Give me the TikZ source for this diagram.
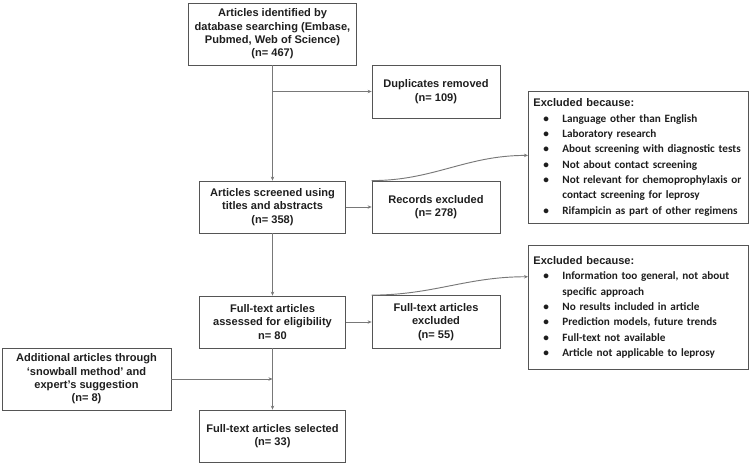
\documentclass[tikz,border=0pt]{standalone}
\usepackage{fontspec}
\setmainfont{Liberation Sans}
\newfontfamily\listfont{Carlito}
\usetikzlibrary{arrows.meta, calc, positioning}

\definecolor{boxgrey}{RGB}{85,85,85}
\definecolor{linkgrey}{RGB}{120,120,120}
\definecolor{inkgrey}{RGB}{30,30,30}

\tikzset{
	flowbox/.style={draw=boxgrey, line width=0.6pt, align=center, inner sep=1pt,
		font=\fontsize{8.3}{10}\selectfont\bfseries, text=inkgrey},
	listbox/.style={draw=boxgrey, line width=0.6pt, align=left, anchor=north west,
		inner xsep=3.75pt, inner ysep=2pt, text width=157.5pt,
		font=\listfont\fontsize{8.4}{11.5}\selectfont\bfseries, text=inkgrey},
	link/.style={draw=linkgrey, line width=0.7pt, -{Stealth[length=3pt,width=2.6pt]}},
}
\newcommand{\listhead}{{\normalfont\fontsize{8.3}{11.5}\selectfont\bfseries Excluded because:}}
\newcommand{\bulletitem}{\hspace*{7.5pt}\makebox[14.25pt][l]{\textbullet}}
\newcommand{\bulletcont}{\hspace*{21.75pt}}

\begin{document}
\begin{tikzpicture}[x=0.75pt,y=0.75pt,yscale=-1,xscale=1]
			\useasboundingbox (0,0) rectangle (750,464);

			% Main column
			\draw (272.5,34) node [flowbox, minimum width=126pt, minimum height=46.5pt] (ident) {Articles identified by\\database searching (Embase,\\Pubmed, Web of Science)\\(n= 467)};
			\draw (272.5,207) node [flowbox, minimum width=109.5pt, minimum height=39pt] (screen) {Articles screened using\\titles and abstracts\\(n= 358)};
			\draw (272.5,322) node [flowbox, minimum width=109.5pt, minimum height=39pt] (fulltext) {Full-text articles\\assessed for eligibility\\n= 80};
			\draw (272.5,436) node [flowbox, minimum width=109.5pt, minimum height=39pt] (selected) {Full-text articles selected\\(n= 33)};

			% Side boxes
			\draw (436,91.5) node [flowbox, minimum width=96pt, minimum height=39.75pt] (dupl) {Duplicates removed\\(n= 109)};
			\draw (436,207) node [flowbox, minimum width=96pt, minimum height=39pt] (records) {Records excluded\\(n= 278)};
			\draw (436,322) node [flowbox, minimum width=96pt, minimum height=39.75pt] (ftexcl) {Full-text articles\\excluded\\(n= 55)};
			\draw (86.5,379) node [flowbox, minimum width=126.75pt, minimum height=46.5pt] (extra) {Additional articles through\\`snowball method' and\\expert's suggestion\\(n= 8)};

			% Reasons
			\draw (528,91) node [listbox, minimum height=99pt] (reasonsA) {\listhead\\
				\bulletitem Language other than English\\
				\bulletitem Laboratory research\\
				\bulletitem About screening with diagnostic tests\\
				\bulletitem Not about contact screening\\
				\bulletitem Not relevant for chemoprophylaxis or\\
				\bulletcont contact screening for leprosy\\
				\bulletitem Rifampicin as part of other regimens};
			\draw (528,245) node [listbox, minimum height=93pt] (reasonsB) {\listhead\\
				\bulletitem Information too general, not about\\
				\bulletcont specific approach\\
				\bulletitem No results included in article\\
				\bulletitem Prediction models, future trends\\
				\bulletitem Full-text not available\\
				\bulletitem Article not applicable to leprosy\\[4pt]};

			% Connectors
			\draw [link] (ident.south) -- (screen.north);
			\coordinate (split) at (ident.south |- dupl.west);
			\draw [link] (split) -- (dupl.west);
			\draw [link] (screen.east) -- (records.west);
			\draw [link] (records.north west) to [out=0, in=180] ([yshift=-1.5pt]reasonsA.west);
			\draw [link] (screen.south) -- (fulltext.north);
			\draw [link] (fulltext.east) -- (ftexcl.west);
			\draw [link] (ftexcl.north west) to [out=0, in=180] ([yshift=-23pt]reasonsB.west);
			\draw [link] (fulltext.south) -- (selected.north);
			\coordinate (merge) at (fulltext.south |- extra.east);
			\draw [link] (extra.east) -- (merge);

		\end{tikzpicture}
\end{document}
